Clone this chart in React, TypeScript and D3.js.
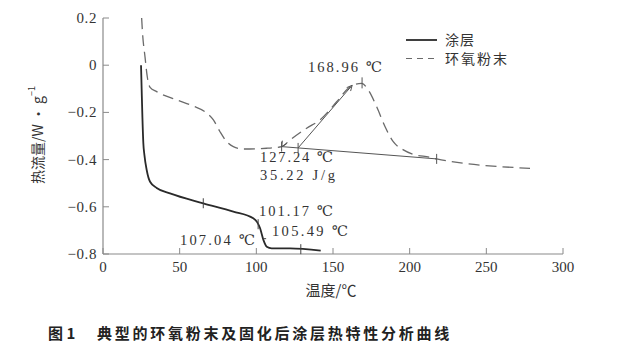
import React from "react";
import * as d3 from "d3";

const coatingX = [24.8, 25.2, 25.7, 26.3, 27, 28.5, 30.7, 35, 43.7, 65.4, 85, 98, 100.5, 102.4, 104.6, 106.8, 110, 122, 142];
const coatingY = [0.0, -0.1, -0.22, -0.33, -0.38, -0.444, -0.494, -0.52, -0.543, -0.585, -0.62, -0.649, -0.665, -0.69, -0.74, -0.769, -0.776, -0.776, -0.786];

const powderX = [25.2, 25.8, 27.4, 28.9, 30.7, 35, 48, 58.9, 66.5, 72, 76.3, 80.7, 85, 91.5, 106.8, 116.5, 122, 132.8, 141.5, 152.4, 160, 164.4, 168.7, 173, 178.5, 183.9, 189.3, 195.9, 202.4, 213.3, 217.6, 278.5];
const powderY = [0.2, 0.135, 0.035, -0.05, -0.094, -0.112, -0.147, -0.173, -0.197, -0.232, -0.282, -0.324, -0.345, -0.355, -0.352, -0.345, -0.317, -0.267, -0.232, -0.155, -0.098, -0.081, -0.077, -0.105, -0.176, -0.26, -0.324, -0.359, -0.378, -0.39, -0.397, -0.437];

const xTicks = [0, 50, 100, 150, 200, 250, 300];
const yTicks = [0.2, 0, -0.2, -0.4, -0.6, -0.8];
const seriesNames = ["涂层", "环氧粉末"];

// annotation values
const baseStart = [116.5, -0.345];
const baseEnd = [217.6, -0.397];
const onsetT = 127.24;
const peakT = 168.96;
const peakY = -0.077;
const tangentEnd = [162.5, -0.085];
const coatTicks = [65.4, 101.17, 129];

const x = d3.scaleLinear().domain([0, 300]).range([103, 563]);
const y = d3.scaleLinear().domain([-0.8, 0.2]).range([254, 18]);

const fmtY = (v: number) => (v === 0 ? "0" : (v < 0 ? "−" : "") + Math.abs(v).toFixed(1));

const serif = "'Liberation Serif', 'DejaVu Serif', serif";
const cjk = "'Noto Sans CJK SC', sans-serif";

export default function App() {
  const coatPath = d3
    .line<[number, number]>()
    .x((d) => x(d[0]))
    .y((d) => y(d[1]))
    .curve(d3.curveMonotoneX)(coatingX.map((v, i) => [v, coatingY[i]]));
  const powderPath = d3
    .line<[number, number]>()
    .x((d) => x(d[0]))
    .y((d) => y(d[1]))
    .curve(d3.curveMonotoneX)(powderX.map((v, i) => [v, powderY[i]]));

  const baseAt = (t: number) =>
    baseStart[1] + ((t - baseStart[0]) / (baseEnd[0] - baseStart[0])) * (baseEnd[1] - baseStart[1]);
  const interp = (xs: number[], ys: number[], t: number) => {
    for (let i = 0; i < xs.length - 1; i++) {
      if (t >= xs[i] && t <= xs[i + 1]) {
        return ys[i] + ((t - xs[i]) / (xs[i + 1] - xs[i])) * (ys[i + 1] - ys[i]);
      }
    }
    return ys[ys.length - 1];
  };

  const ox = x(onsetT);
  const oy = y(baseAt(onsetT));
  const tx = x(tangentEnd[0]);
  const ty = y(tangentEnd[1]);
  const ang = Math.atan2(ty - oy, tx - ox);
  const ah = (px: number, py: number, a: number) => {
    const L = 6;
    const w = 0.45;
    return `M${px - L * Math.cos(a - w)},${py - L * Math.sin(a - w)} L${px},${py} L${px - L * Math.cos(a + w)},${py - L * Math.sin(a + w)}`;
  };
  const lx = x(baseStart[0]);
  const ly = y(baseStart[1]);
  const la = Math.atan2(ly - y(-0.3), lx - x(121));

  const axisColor = "#8a8a8a";
  const ink = "#333";

  return (
    <svg width={629} height={350} style={{ position: "absolute", left: 0, top: 0, background: "#fff" }}>
      {/* axes */}
      <line x1={x(0)} x2={x(300)} y1={y(-0.8)} y2={y(-0.8)} stroke={axisColor} strokeWidth={1.2} />
      <line x1={x(0)} x2={x(0)} y1={y(-0.8)} y2={y(0.2)} stroke={axisColor} strokeWidth={1.2} />
      {xTicks.map((t) => (
        <g key={"xt" + t}>
          <line x1={x(t)} x2={x(t)} y1={y(-0.8)} y2={y(-0.8) - 6} stroke={axisColor} strokeWidth={1} />
          <text x={x(t)} y={267} textAnchor="middle" dominantBaseline="central" fontFamily={serif} fontSize={15} fill={ink}>
            {t}
          </text>
        </g>
      ))}
      {yTicks.map((t) => (
        <g key={"yt" + t}>
          <line x1={x(0)} x2={x(0) + 6} y1={y(t)} y2={y(t)} stroke={axisColor} strokeWidth={1} />
          <text x={97} y={y(t)} textAnchor="end" dominantBaseline="central" fontFamily={serif} fontSize={15} fill={ink} letterSpacing={0.6}>
            {fmtY(t)}
          </text>
        </g>
      ))}

      {/* axis titles */}
      <text x={331} y={289} textAnchor="middle" dominantBaseline="central" fontFamily={cjk} fontSize={15} fill={ink}>
        温度/℃
      </text>
      <text transform="translate(37,135) rotate(-90)" textAnchor="middle" dominantBaseline="central" fontFamily={cjk} fontSize={14} fill={ink}>
        热流量/W • g<tspan dy={-6} fontSize={9}>−1</tspan>
      </text>

      {/* curves */}
      <path d={powderPath || ""} fill="none" stroke="#6a6a6a" strokeWidth={1.3} strokeDasharray="11,6" />
      <path d={coatPath || ""} fill="none" stroke="#2a2a2a" strokeWidth={1.8} />

      {/* powder annotations */}
      <line x1={x(baseStart[0])} y1={y(baseStart[1])} x2={x(baseEnd[0])} y2={y(baseEnd[1])} stroke="#555" strokeWidth={1} />
      {[baseStart[0], onsetT, baseEnd[0]].map((t) => (
        <line key={"bt" + t} x1={x(t)} x2={x(t)} y1={y(baseAt(t)) - 5} y2={y(baseAt(t)) + 5} stroke="#555" strokeWidth={1} />
      ))}
      <line x1={ox} y1={oy} x2={tx} y2={ty} stroke="#555" strokeWidth={1} />
      <path d={ah(tx, ty, ang)} fill="none" stroke="#555" strokeWidth={1} />
      <path d={ah(lx, ly, la)} fill="none" stroke="#555" strokeWidth={1} />
      <line x1={x(peakT)} x2={x(peakT)} y1={y(peakY) - 6} y2={y(peakY) + 5} stroke="#555" strokeWidth={1} />

      {/* coating annotations */}
      {coatTicks.map((t) => {
        const cy = y(interp(coatingX, coatingY, t));
        return <line key={"ct" + t} x1={x(t)} x2={x(t)} y1={cy - 5} y2={cy + 5} stroke="#444" strokeWidth={1} />;
      })}
      <line x1={x(104.4)} x2={x(106.4)} y1={y(-0.735)} y2={y(-0.735)} stroke="#444" strokeWidth={1} />

      {/* labels */}
      <text x={308} y={72} fontFamily={serif} fontSize={14.5} fill={ink} textLength={74}>168.96 ℃</text>
      <text x={260} y={162} fontFamily={serif} fontSize={14.5} fill={ink} textLength={73}>127.24 ℃</text>
      <text x={260} y={180} fontFamily={serif} fontSize={14.5} fill={ink} textLength={75}>35.22 J/g</text>
      <text x={259} y={216} fontFamily={serif} fontSize={14.5} fill={ink} textLength={74}>101.17 ℃</text>
      <text x={272} y={236} fontFamily={serif} fontSize={14.5} fill={ink} textLength={76}>105.49 ℃</text>
      <text x={180} y={245} fontFamily={serif} fontSize={14.5} fill={ink} textLength={75}>107.04 ℃</text>

      {/* legend */}
      <line x1={406} x2={437} y1={40} y2={40} stroke="#2a2a2a" strokeWidth={1.8} />
      <text x={445} y={45} fontFamily={cjk} fontSize={14} fill={ink} letterSpacing={1}>{seriesNames[0]}</text>
      <line x1={406} x2={437} y1={58.5} y2={58.5} stroke="#6a6a6a" strokeWidth={1.2} strokeDasharray="6,5" />
      <text x={445} y={63.5} fontFamily={cjk} fontSize={14} fill={ink} letterSpacing={2}>{seriesNames[1]}</text>

      {/* caption */}
      <text x={48} y={332} dominantBaseline="central" fontFamily={cjk} fontWeight="bold" fontSize={15} fill="#222">
        图 1
      </text>
      <text x={97} y={332} dominantBaseline="central" fontFamily={cjk} fontWeight="bold" fontSize={15} fill="#222" letterSpacing={2.75}>
        典型的环氧粉末及固化后涂层热特性分析曲线
      </text>
    </svg>
  );
}
